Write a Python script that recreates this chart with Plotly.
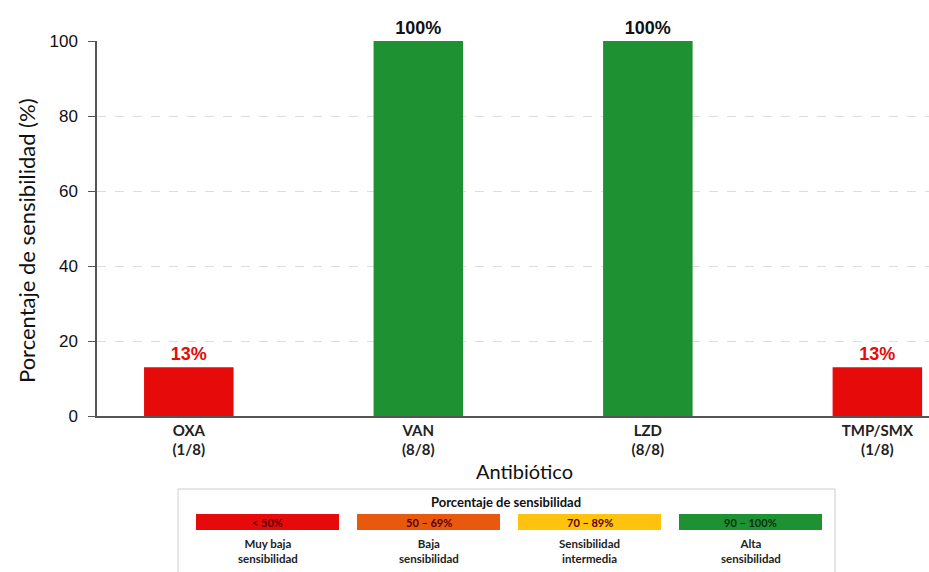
import plotly.graph_objects as go

# Data
antibiotics = ["OXA", "VAN", "LZD", "TMP/SMX"]
ratios = ["(1/8)", "(8/8)", "(8/8)", "(1/8)"]
sensitivity = [13, 100, 100, 13]
bar_labels = ["13%", "100%", "100%", "13%"]

legend_ranges = ["< 50%", "50 – 69%", "70 – 89%", "90 – 100%"]
legend_names = ["Muy baja<br>sensibilidad", "Baja<br>sensibilidad",
                "Sensibilidad<br>intermedia", "Alta<br>sensibilidad"]
legend_colors = ["#E60A0A", "#E8580F", "#FFC20E", "#1E9232"]

RED = legend_colors[0]

def color_for(v):
    if v < 50:
        return legend_colors[0]
    if v < 70:
        return legend_colors[1]
    if v < 90:
        return legend_colors[2]
    return legend_colors[3]

bar_colors = [color_for(v) for v in sensitivity]
text_colors = [RED if v < 50 else "#111111" for v in sensitivity]

W, H = 929, 572
L, R, T, B = 97, 0, 41, 156
PW = W - L - R
PH = H - T - B

def px(x):
    return (x - L) / PW

def py(y):
    return (H - B - y) / PH

ticktext = [f"<b>{a}</b><br><b>{r}</b>" for a, r in zip(antibiotics, ratios)]

fig = go.Figure()
fig.add_trace(go.Bar(
    x=antibiotics, y=sensitivity,
    marker=dict(color=bar_colors, line=dict(width=0)),
    width=0.39,
    text=[f"<b>{t}</b>" for t in bar_labels],
    textposition="outside",
    textfont=dict(family="Liberation Sans, Arial", size=18, color=text_colors),
    cliponaxis=False,
    hoverinfo="skip",
))

fig.update_layout(
    width=W, height=H,
    margin=dict(l=L, r=R, t=T, b=B),
    plot_bgcolor="white", paper_bgcolor="white",
    showlegend=False,
    font=dict(family="Lato, Liberation Sans", color="#111111"),
    xaxis=dict(
        type="category",
        range=[-0.40, 3.225],
        tickvals=antibiotics, ticktext=ticktext,
        tickfont=dict(family="Lato", size=15, color="#222222"),
        showline=True, linecolor="#555555", linewidth=1.5,
        showgrid=False, ticks="",
    ),
    yaxis=dict(
        range=[0, 100],
        tickvals=[0, 20, 40, 60, 80, 100],
        tickfont=dict(family="Liberation Sans, Arial", size=17, color="#111111"),
        showline=True, linecolor="#555555", linewidth=1.5,
        ticks="outside", ticklen=7, tickcolor="#555555",
        ticklabelstandoff=7,
        showgrid=True, gridcolor="#dddddd", griddash="dash", gridwidth=1,
        zeroline=False,
    ),
)

shapes = []
annotations = []

# Axis titles (placed as in the reference)
annotations.append(dict(xref="paper", yref="paper", x=px(26), y=py(241),
                        text="Porcentaje de sensibilidad (%)", textangle=-90,
                        showarrow=False, font=dict(family="Lato", size=22, color="#111111"),
                        xanchor="center", yanchor="middle"))
annotations.append(dict(xref="paper", yref="paper", x=px(524), y=py(471),
                        text="Antibiótico", showarrow=False,
                        font=dict(family="Lato", size=20, color="#111111"),
                        xanchor="center", yanchor="middle"))

# Color key box
shapes.append(dict(type="rect", xref="paper", yref="paper",
                   x0=px(178), x1=px(835), y0=py(575), y1=py(489),
                   line=dict(color="#cccccc", width=1), fillcolor="white", layer="above"))
annotations.append(dict(xref="paper", yref="paper", x=px(506), y=py(502),
                        text="<b>Porcentaje de sensibilidad</b>", showarrow=False,
                        font=dict(family="Lato", size=13, color="#111111"),
                        xanchor="center", yanchor="middle"))
box_w = 143
x_starts = [196, 357, 518, 679]
for i, (rng, name, col) in enumerate(zip(legend_ranges, legend_names, legend_colors)):
    x0 = x_starts[i]
    shapes.append(dict(type="rect", xref="paper", yref="paper",
                       x0=px(x0), x1=px(x0 + box_w), y0=py(530), y1=py(514),
                       line=dict(width=0), fillcolor=col, layer="above"))
    cx = x0 + box_w / 2
    annotations.append(dict(xref="paper", yref="paper", x=px(cx), y=py(522),
                            text=f"<b>{rng}</b>", showarrow=False,
                            font=dict(family="Lato", size=11, color="#5a0000" if i < 3 else "#0b3010"),
                            xanchor="center", yanchor="middle"))
    annotations.append(dict(xref="paper", yref="paper", x=px(cx), y=py(551),
                            text=f"<b>{name}</b>", showarrow=False,
                            font=dict(family="Lato", size=11.5, color="#222222"),
                            xanchor="center", yanchor="middle"))

fig.update_layout(shapes=shapes, annotations=annotations)

fig.write_html("out.html", config={"displayModeBar": False},
               post_script="document.body.style.margin='0';")
